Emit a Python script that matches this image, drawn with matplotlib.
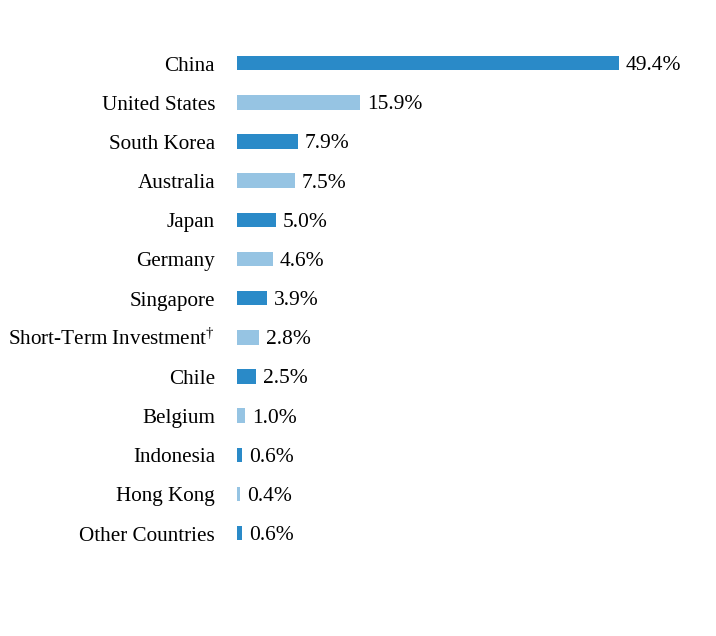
import matplotlib
matplotlib.use("Agg")
import matplotlib.pyplot as plt

plt.rcParams['font.family'] = ['Liberation Serif', 'DejaVu Serif']
plt.rcParams['mathtext.fontset'] = 'custom'
plt.rcParams['mathtext.rm'] = 'Liberation Serif'
plt.rcParams['mathtext.it'] = 'Liberation Serif:italic'
plt.rcParams['mathtext.bf'] = 'Liberation Serif:bold'

countries = ["China", "United States", "South Korea", "Australia", "Japan", "Germany",
             "Singapore", r"Short-Term Investment$^{\dagger}$", "Chile", "Belgium",
             "Indonesia", "Hong Kong", "Other Countries"]
weights = [49.4, 15.9, 7.9, 7.5, 5.0, 4.6, 3.9, 2.8, 2.5, 1.0, 0.6, 0.4, 0.6]

dark = "#2a8ac8"
light = "#96c4e3"
colors = [dark if i % 2 == 0 else light for i in range(len(weights))]

fig = plt.figure(figsize=(7.16, 6.36), dpi=100)
ax = fig.add_axes([237 / 716, 0.131, 464 / 716, 0.8006])

pos = list(range(len(weights)))
ax.barh(pos, weights, height=0.37, color=colors)
ax.set_xlim(0, 60)
ax.set_ylim(len(weights) - 0.5, -0.5)

# labels drawn with baseline sitting at the bar's bottom edge
for p, w, name in zip(pos, weights, countries):
    ax.annotate(f"{w:.1f}%", (w, p), xytext=(7, -7), textcoords="offset pixels",
                va="baseline", ha="left", fontsize=15.5)
    ax.annotate(name, (0, p), xytext=(-22, -7.5), textcoords="offset pixels",
                va="baseline", ha="right", fontsize=15.2)

ax.set_yticks([])
ax.set_xticks([])
for s in ax.spines.values():
    s.set_visible(False)

fig.savefig("out.png", dpi=100)
